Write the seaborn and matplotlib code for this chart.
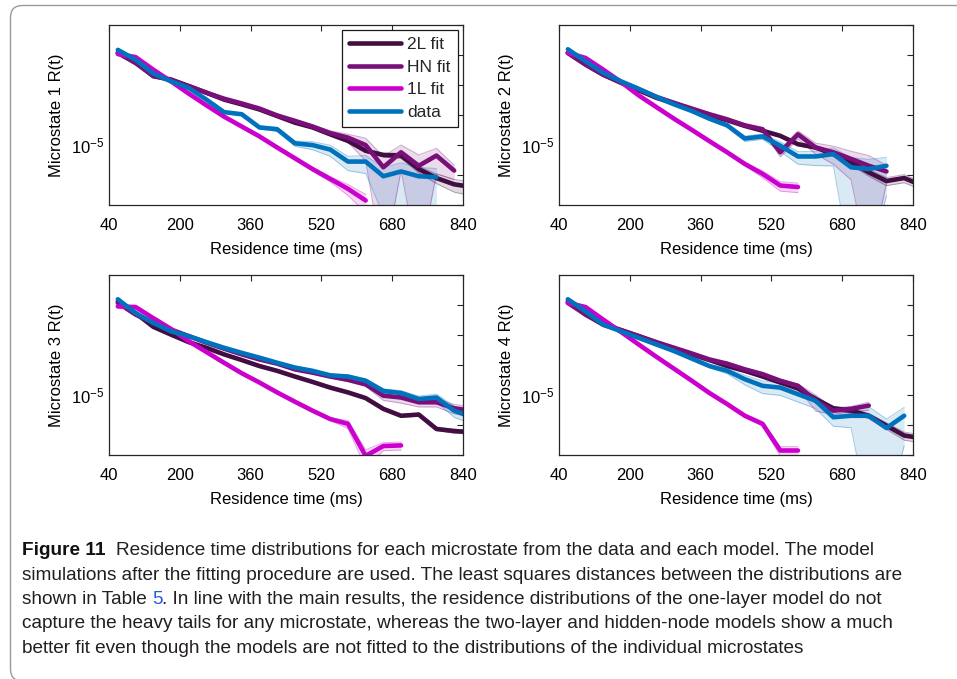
import numpy as np
import pandas as pd
import matplotlib
matplotlib.use("Agg")
import matplotlib.pyplot as plt
import seaborn as sns
from matplotlib.lines import Line2D
from matplotlib.patches import PathPatch
from matplotlib.path import Path
from matplotlib.transforms import IdentityTransform
from matplotlib.ticker import NullLocator

sns.set_theme(style="white")
plt.rcParams["font.family"] = ["Liberation Sans", "DejaVu Sans"]
plt.rcParams["mathtext.fontset"] = "custom"
plt.rcParams["mathtext.rm"] = "Liberation Sans"
plt.rcParams["mathtext.it"] = "Liberation Sans:italic"

# bin centres of the residence-time histograms (ms)
times = [60, 100, 140, 180, 220, 260, 300, 340, 380, 420, 460,
         500, 540, 580, 620, 660, 700, 740, 780, 820, 860]

models = ["2L fit", "HN fit", "1L fit", "data"]
colors = {"2L fit": "#420d42", "HN fit": "#7a0f7a",
          "1L fit": "#cc00cc", "data": "#0072bd"}

# log10 R(t) for each microstate and source
ms1_2l = [-1.92, -2.24, -2.70, -2.81, -3.03, -3.25, -3.48, -3.64, -3.81, -4.03, -4.25,
          -4.41, -4.64, -4.86, -5.19, -5.33, -5.35, -5.80, -6.10, -6.31, -6.40]
ms1_hn = [-1.92, -2.26, -2.68, -2.83, -3.03, -3.25, -3.45, -3.61, -3.78, -4.01, -4.19,
          -4.38, -4.60, -4.75, -5.00, -5.74, -5.24, -5.69, -5.35, -5.85]
ms1_1l = [-1.96, -2.06, -2.48, -2.87, -3.28, -3.67, -4.05, -4.38, -4.71, -5.08, -5.44,
          -5.80, -6.13, -6.46, -6.85]
ms1_data = [-1.82, -2.15, -2.61, -2.87, -3.09, -3.48, -3.90, -3.97, -4.41, -4.47, -4.94,
            -5.00, -5.15, -5.55, -5.55, -6.04, -5.88, -6.04, -6.07]

ms2_2l = [-1.92, -2.31, -2.65, -2.92, -3.17, -3.42, -3.61, -3.81, -4.01, -4.17, -4.36,
          -4.52, -4.69, -4.97, -5.08, -5.30, -5.57, -5.91, -6.20, -6.10, -6.35]
ms2_hn = [-1.92, -2.31, -2.65, -2.90, -3.14, -3.39, -3.59, -3.78, -3.97, -4.14, -4.34,
          -4.47, -5.24, -4.64, -5.08, -5.24, -5.46, -5.69, -5.88]
ms2_1l = [-1.92, -2.09, -2.48, -2.89, -3.34, -3.73, -4.12, -4.49, -4.87, -5.24, -5.63,
          -5.96, -6.35, -6.40]
ms2_data = [-1.80, -2.20, -2.59, -2.87, -3.12, -3.39, -3.64, -3.86, -4.12, -4.34, -4.78,
            -4.71, -5.02, -5.38, -5.38, -5.30, -5.74, -5.80, -5.69]

ms3_2l = [-1.87, -2.26, -2.72, -2.98, -3.23, -3.42, -3.64, -3.83, -4.03, -4.19, -4.38,
          -4.56, -4.75, -4.91, -5.10, -5.46, -5.69, -5.65, -6.13, -6.20, -6.24]
ms3_hn = [-1.92, -2.31, -2.59, -2.81, -3.03, -3.25, -3.45, -3.64, -3.81, -3.95, -4.14,
          -4.25, -4.38, -4.49, -4.64, -5.02, -5.08, -5.24, -5.24, -5.44, -5.52]
ms3_1l = [-2.04, -2.06, -2.43, -2.79, -3.20, -3.56, -3.92, -4.27, -4.58, -4.91, -5.22,
          -5.52, -5.80, -5.96, -7.03, -6.70, -6.68]
ms3_data = [-1.80, -2.26, -2.59, -2.87, -3.03, -3.23, -3.42, -3.59, -3.75, -3.92, -4.08,
            -4.19, -4.34, -4.38, -4.52, -4.86, -4.93, -5.13, -5.08, -5.52, -5.74]

ms4_2l = [-1.87, -2.31, -2.65, -2.83, -3.03, -3.25, -3.45, -3.64, -3.83, -4.03, -4.19,
          -4.38, -4.58, -4.78, -5.13, -5.44, -5.52, -5.69, -6.02, -6.35, -6.44]
ms4_hn = [-1.92, -2.31, -2.61, -2.83, -3.03, -3.23, -3.42, -3.61, -3.81, -3.95, -4.14,
          -4.30, -4.52, -4.69, -5.19, -5.52, -5.46, -5.35]
ms4_1l = [-1.92, -2.06, -2.48, -2.89, -3.31, -3.72, -4.12, -4.52, -4.93, -5.30, -5.69,
          -5.96, -6.85, -6.85]
ms4_data = [-1.80, -2.20, -2.65, -2.87, -3.09, -3.31, -3.53, -3.78, -4.03, -4.19, -4.47,
            -4.69, -4.75, -4.97, -5.19, -5.74, -5.69, -5.69, -6.10, -5.69]

# relative standard error of each point (shaded band = R * (1 +/- err))
ms1_2l_err = [0.06, 0.06, 0.06, 0.06, 0.06, 0.06, 0.06, 0.06, 0.07, 0.07, 0.08,
              0.08, 0.09, 0.10, 0.12, 0.15, 0.20, 0.25, 0.35, 0.45, 0.50]
ms1_hn_err = [0.06, 0.06, 0.06, 0.06, 0.06, 0.06, 0.07, 0.07, 0.08, 0.10, 0.12,
              0.15, 0.20, 0.30, 0.70, 1.30, 0.75, 1.30, 0.75, 0.50]
ms1_1l_err = [0.06, 0.06, 0.06, 0.06, 0.06, 0.06, 0.07, 0.07, 0.08, 0.10, 0.12,
              0.15, 0.20, 0.40, 0.60]
ms1_data_err = [0.05, 0.05, 0.05, 0.05, 0.06, 0.07, 0.08, 0.10, 0.12, 0.15, 0.20,
                0.30, 0.40, 0.50, 0.60, 0.95, 0.95, 0.95, 0.95]

ms2_2l_err = [0.06, 0.06, 0.06, 0.06, 0.06, 0.06, 0.06, 0.06, 0.06, 0.07, 0.07,
              0.08, 0.08, 0.10, 0.12, 0.15, 0.20, 0.25, 0.30, 0.30, 0.30]
ms2_hn_err = [0.06, 0.06, 0.06, 0.06, 0.06, 0.06, 0.06, 0.07, 0.07, 0.08, 0.10,
              0.12, 0.30, 0.30, 0.40, 0.60, 0.80, 1.20, 0.60]
ms2_1l_err = [0.06, 0.06, 0.06, 0.06, 0.06, 0.06, 0.07, 0.07, 0.08, 0.10, 0.12,
              0.25, 0.35, 0.35]
ms2_data_err = [0.05, 0.05, 0.05, 0.05, 0.05, 0.06, 0.07, 0.08, 0.10, 0.15, 0.20,
                0.20, 0.35, 0.45, 0.50, 0.60, 1.10, 1.10, 0.90]

ms3_2l_err = [0.06, 0.06, 0.06, 0.06, 0.06, 0.06, 0.06, 0.06, 0.06, 0.06, 0.06,
              0.07, 0.07, 0.08, 0.08, 0.10, 0.10, 0.12, 0.12, 0.15, 0.15]
ms3_hn_err = [0.06, 0.06, 0.06, 0.06, 0.06, 0.06, 0.06, 0.06, 0.07, 0.07, 0.08,
              0.08, 0.10, 0.12, 0.15, 0.30, 0.35, 0.30, 0.30, 0.35, 0.35]
ms3_1l_err = [0.06, 0.06, 0.06, 0.06, 0.06, 0.06, 0.06, 0.07, 0.07, 0.08, 0.08,
              0.10, 0.10, 0.30, 0.60, 0.30, 0.30]
ms3_data_err = [0.05, 0.05, 0.05, 0.05, 0.05, 0.05, 0.06, 0.06, 0.07, 0.07, 0.08,
                0.08, 0.10, 0.12, 0.15, 0.15, 0.20, 0.25, 0.30, 0.40, 0.40]

ms4_2l_err = [0.06, 0.06, 0.06, 0.06, 0.06, 0.06, 0.06, 0.06, 0.06, 0.07, 0.07,
              0.08, 0.08, 0.10, 0.12, 0.15, 0.20, 0.20, 0.25, 0.30, 0.30]
ms4_hn_err = [0.06, 0.06, 0.06, 0.06, 0.06, 0.06, 0.06, 0.07, 0.07, 0.08, 0.10,
              0.10, 0.12, 0.15, 0.55, 0.25, 0.20, 0.30]
ms4_1l_err = [0.06, 0.06, 0.06, 0.06, 0.06, 0.06, 0.07, 0.07, 0.08, 0.10, 0.12,
              0.15, 0.35, 0.35]
ms4_data_err = [0.05, 0.05, 0.05, 0.05, 0.06, 0.07, 0.08, 0.10, 0.12, 0.20, 0.35,
                0.45, 0.45, 0.45, 0.45, 0.50, 0.60, 1.00, 1.00, 0.90]

x_ticks = [40, 200, 360, 520, 680, 840]
caption_lines = [
    "Residence time distributions for each microstate from the data and each model. The model",
    "simulations after the fitting procedure are used. The least squares distances between the distributions are",
    ". In line with the main results, the residence distributions of the one-layer model do not",
    "capture the heavy tails for any microstate, whereas the two-layer and hidden-node models show a much",
    "better fit even though the models are not fitted to the distributions of the individual microstates",
]

curves = {
    1: {"2L fit": (ms1_2l, ms1_2l_err), "HN fit": (ms1_hn, ms1_hn_err),
        "1L fit": (ms1_1l, ms1_1l_err), "data": (ms1_data, ms1_data_err)},
    2: {"2L fit": (ms2_2l, ms2_2l_err), "HN fit": (ms2_hn, ms2_hn_err),
        "1L fit": (ms2_1l, ms2_1l_err), "data": (ms2_data, ms2_data_err)},
    3: {"2L fit": (ms3_2l, ms3_2l_err), "HN fit": (ms3_hn, ms3_hn_err),
        "1L fit": (ms3_1l, ms3_1l_err), "data": (ms3_data, ms3_data_err)},
    4: {"2L fit": (ms4_2l, ms4_2l_err), "HN fit": (ms4_hn, ms4_hn_err),
        "1L fit": (ms4_1l, ms4_1l_err), "data": (ms4_data, ms4_data_err)},
}

rows = []
for ms, series in curves.items():
    for model, (logr, err) in series.items():
        for t, lr, e in zip(times, logr, err):
            rows.append({"ms": ms, "model": model, "time": t, "R": 10.0 ** lr, "err": e})
df = pd.DataFrame(rows)

W, H = 957, 679
fig = plt.figure(figsize=(W / 100, H / 100), dpi=100)
fig.patch.set_facecolor("white")

axis_color = "#262626"
panels = {1: (109, 25), 2: (559, 25), 3: (109, 275), 4: (559, 275)}
aw, ah = 354, 180
decades = [1e-7, 1e-6, 1e-5, 1e-4, 1e-3, 1e-2, 1e-1]

for ms, (x0, y0) in panels.items():
    ax = fig.add_axes([x0 / W, 1 - (y0 + ah) / H, aw / W, ah / H])
    ax.set_yscale("log")
    for model in models:
        sub = df[(df.ms == ms) & (df.model == model)]
        c = colors[model]
        lo = np.clip(sub["R"] * (1 - sub["err"]), 1e-9, None)
        hi = sub["R"] * (1 + sub["err"])
        ax.fill_between(sub["time"], lo, hi, color=c, alpha=0.15, lw=0, zorder=1)
        ax.plot(sub["time"], lo, color=c, alpha=0.35, lw=0.7, zorder=1.5)
        ax.plot(sub["time"], hi, color=c, alpha=0.35, lw=0.7, zorder=1.5)
        sns.lineplot(x=sub["time"], y=sub["R"], color=c, lw=3.3, ax=ax,
                     sort=False, errorbar=None, legend=False, zorder=2)

    ax.set_xlim(40, 840)
    ax.set_ylim(10 ** -6.96, 10 ** -0.99)
    ax.set_xticks(x_ticks)
    ax.set_xticklabels([str(v) for v in x_ticks])
    ax.set_yticks(decades)
    ax.set_yticklabels(["" if d != 1e-5 else r"$10^{-5}$" for d in decades])
    ax.yaxis.set_minor_locator(NullLocator())
    ax.xaxis.set_minor_locator(NullLocator())
    ax.tick_params(axis="both", which="major", direction="in", length=4.5, width=0.8,
                   color=axis_color, top=True, right=True, labelsize=12,
                   labelcolor="black")
    ax.tick_params(axis="x", pad=9.5)
    ax.tick_params(axis="y", pad=3)
    for sp in ax.spines.values():
        sp.set_color(axis_color)
        sp.set_linewidth(0.9)
        sp.set_visible(True)
    ax.set_xlabel("Residence time (ms)", fontsize=12, labelpad=6, color="black")
    ax.set_ylabel(f"Microstate {ms} R(t)", fontsize=12, labelpad=5, color="black")
    ax.grid(False)

    if ms == 1:
        handles = [Line2D([0], [0], color=colors[m], lw=3.3) for m in models]
        leg = ax.legend(handles, models, loc="upper right",
                        bbox_to_anchor=((458 - 109) / aw, (205 - 30) / ah),
                        borderaxespad=0, fontsize=12.5, handlelength=3.0,
                        handletextpad=0.35, labelspacing=0.42, borderpad=0.42,
                        frameon=True, fancybox=False, framealpha=1)
        leg.get_frame().set_edgecolor("#1a1a1a")
        leg.get_frame().set_linewidth(0.9)

# rounded frame around the figure block (display pixels, origin bottom-left)
r = 12
xl, yt, yb, xr = 10.5, H - 5.5, -2.0, W + 20
verts = [(xr, yt), (xl + r, yt), (xl, yt), (xl, yt - r), (xl, yb + r),
         (xl, yb), (xl + r, yb), (xr, yb)]
codes = [Path.MOVETO, Path.LINETO, Path.CURVE3, Path.CURVE3, Path.LINETO,
         Path.CURVE3, Path.CURVE3, Path.LINETO]
fig.add_artist(PathPatch(Path(verts, codes), transform=IdentityTransform(),
                         fill=False, edgecolor="#9a9a9a", lw=1.0))

# caption, measured so that each line runs the width of the text block
renderer = fig.canvas.get_renderer()
cap_family = ["Liberation Sans Narrow", "Liberation Sans"]
cap_color = "#231f20"
link_color = "#2a5bd7"
x_left = 22
baselines = [555, 579.5, 604, 628.5, 653]


def measure(s, size, weight="normal"):
    t = fig.text(0, 0, s, fontsize=size, fontweight=weight, family=cap_family)
    w = t.get_window_extent(renderer).width
    t.remove()
    return w


size = 12.0 * 890 / measure(caption_lines[1], 12.0)
space = measure("a a", size) - measure("aa", size)


def put(x, yb, s, weight="normal", color=cap_color, ha="left"):
    fig.text(x / W, 1 - yb / H, s, fontsize=size, fontweight=weight,
             family=cap_family, color=color, ha=ha, va="baseline")


# first line: bold label followed by the description
put(x_left, baselines[0], "Figure 11", weight="bold", color="#111111")
w_bold = measure("Figure 11", size, "bold")
put(x_left + w_bold + 2 * space, baselines[0], caption_lines[0])
put(x_left, baselines[1], caption_lines[1])
# third line carries the table reference in link colour
prefix = "shown in Table"
w_ref = measure(prefix + " 5", size)
w_full = measure(prefix + " 5" + caption_lines[2], size)
put(x_left, baselines[2], prefix)
put(x_left + w_ref, baselines[2], "5", color=link_color, ha="right")
put(x_left + w_full, baselines[2], caption_lines[2], ha="right")
put(x_left, baselines[3], caption_lines[3])
put(x_left, baselines[4], caption_lines[4])

fig.savefig("out.png", dpi=100, facecolor="white")
